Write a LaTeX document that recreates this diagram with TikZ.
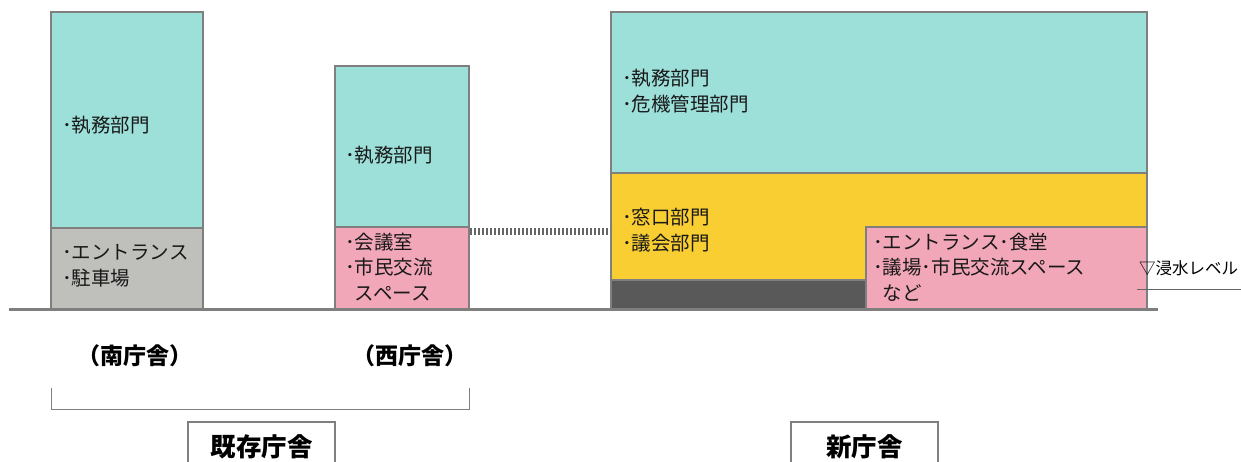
\documentclass[tikz,border=0pt]{standalone}
\usepackage{fontspec}
\setmainfont{Noto Sans CJK JP}
\definecolor{teal1}{HTML}{9DE0DA}
\definecolor{gray1}{HTML}{BFBFBB}
\definecolor{pink1}{HTML}{F2A7B9}
\definecolor{yel1}{HTML}{F9CE33}
\definecolor{dark1}{HTML}{595959}
\definecolor{edge1}{HTML}{7F7F7F}
\tikzset{
  blk/.style={draw=edge1, line width=1.5pt},
  lbl/.style={anchor=west, inner sep=0pt, align=left, font=\fontsize{19.5}{25.5}\selectfont, text=black!90},
  captxt/.style={inner sep=0pt, font=\fontsize{23}{25}\selectfont\bfseries},
  boxtxt/.style={inner sep=0pt, font=\fontsize{25.5}{28}\selectfont\bfseries},
}
\newcommand{\bul}{･}
\begin{document}
\begin{tikzpicture}[x=1pt,y=-1pt]
\clip (0,0) rectangle (1241,461);
\fill[white] (0,0) rectangle (1241,461);
% South building
\draw[blk, fill=teal1] (51,12) rectangle (203,228);
\draw[blk, fill=gray1] (51,228) rectangle (203,309);
% West building
\draw[blk, fill=teal1] (335,66) rectangle (469,227);
\draw[blk, fill=pink1] (335,227) rectangle (469,309);
% New building
\draw[blk, fill=teal1] (611,12) rectangle (1147,173);
\draw[blk, fill=yel1] (611,173) -- (1147,173) -- (1147,227) -- (866,227) -- (866,280) -- (611,280) -- cycle;
\draw[blk, fill=dark1] (611,280) rectangle (866,309);
\draw[blk, fill=pink1] (866,227) rectangle (1147,309);
% connector
\coordinate (cw) at (470,231);
\coordinate (cn) at (610,231);
\draw[black!60, line width=7pt, dash pattern=on 2pt off 2pt] (cw) -- (cn);
% ground
\coordinate (g1) at (9,309);
\coordinate (g2) at (1158,309);
\draw[edge1, line width=3pt] (g1) -- (g2);
% texts
\node[lbl] (s1) at (62,125) {\bul 執務部門};
\node[lbl] (s2) at (62,266) {\bul エントランス\\\bul 駐車場};
\node[lbl] (w1) at (345,155) {\bul 執務部門};
\node[lbl] (w2) at (345,267) {\bul 会議室\\\bul 市民交流\\\phantom{\bul}スペース};
\node[lbl] (n1) at (622,91) {\bul 執務部門\\\bul 危機管理部門};
\node[lbl] (n2) at (622,230) {\bul 窓口部門\\\bul 議会部門};
\node[lbl] (n3) at (873,267) {\bul エントランス\bul 食堂\\\bul 議場\bul 市民交流スペース\\\phantom{\bul}など};
% flood level
\node[inner sep=0pt, anchor=west, font=\fontsize{16.5}{18}\selectfont] (fl) at (1139,268) {▽浸水レベル};
\coordinate (u1) at (1137,289);
\coordinate (u2) at (1241,289);
\draw[black!60, line width=1pt] (u1) -- (u2);
% captions
\node[captxt] (cs) at (135,356) {（南庁舎）};
\node[captxt] (cw2) at (410,356) {（西庁舎）};
% bracket
\coordinate (b1) at (51,388);
\coordinate (b2) at (51,409);
\coordinate (b3) at (469,409);
\coordinate (b4) at (469,388);
\draw[edge1, line width=1pt] (b1) -- (b2) -- (b3) -- (b4);
% bottom boxes
\draw[edge1, line width=1.5pt, fill=white] (188,422) rectangle (335,475);
\node[boxtxt] (ex) at (261.5,447) {既存庁舎};
\draw[edge1, line width=1.5pt, fill=white] (791,422) rectangle (938,475);
\node[boxtxt] (nw) at (864.5,447) {新庁舎};
\end{tikzpicture}
\end{document}
